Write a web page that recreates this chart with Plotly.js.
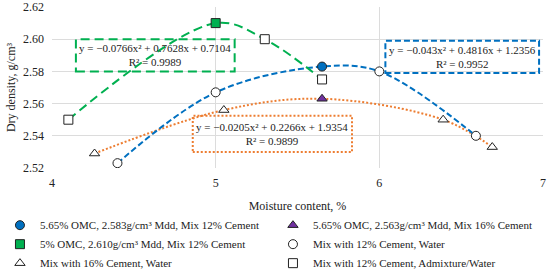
<!DOCTYPE html>
<html>
<head>
<meta charset="utf-8">
<script src="https://cdn.plot.ly/plotly-3.0.1.min.js"></script>
<style>body{margin:0;background:#fff}#plot{width:550px;height:272px}</style>
</head>
<body>
<div id="plot"></div>
<script>
// points
const omc12X = [5.65], omc12Y = [2.583];
const omc16X = [5.65], omc16Y = [2.563];
const omc5X = [5.0], omc5Y = [2.610];
const water12X = [4.4, 5.0, 6.0, 6.59];
const water12Y = [2.523, 2.567, 2.580, 2.540];
const water16X = [4.26, 5.05, 6.39, 6.69];
const water16Y = [2.529, 2.556, 2.550, 2.533];
const admixX = [4.1, 5.3, 5.65];
const admixY = [2.550, 2.600, 2.575];

const eqGreen = 'y = −0.0766x² + 0.7628x + 0.7104<br>R² = 0.9989';
const eqBlue = 'y = −0.043x² + 0.4816x + 1.2356<br>R² = 0.9952';
const eqOrange = 'y = −0.0205x² + 0.2266x + 1.9354<br>R² = 0.9899';

const serif = 'Liberation Serif';

function merge(xa, ya, xb, yb) {
    let pts = [];
    xa.forEach((x, i) => pts.push([x, ya[i]]));
    xb.forEach((x, i) => pts.push([x, yb[i]]));
    pts.sort((a, b) => a[0] - b[0]);
    return { x: pts.map(p => p[0]), y: pts.map(p => p[1]) };
}

const blueT = merge(water12X, water12Y, omc12X, omc12Y);
const orangeT = merge(water16X, water16Y, omc16X, omc16Y);
const greenT = merge(admixX, admixY, omc5X, omc5Y);

function trend(t, color, dash) {
    return {
        x: t.x, y: t.y, type: 'scatter', mode: 'lines', showlegend: false,
        line: { color: color, width: 2, dash: dash, shape: 'spline', smoothing: 1 },
        hoverinfo: 'skip'
    };
}

function pts(x, y, name, symbol, fill, size) {
    return {
        x: x, y: y, type: 'scatter', mode: 'markers', name: name,
        marker: { symbol: symbol, size: size || 9, color: fill, line: { color: '#222', width: 1 } }
    };
}

let traces = [
    trend(orangeT, '#ED7D31', '2px,2px'),
    trend(blueT, '#0070C0', '6px,3px'),
    trend(greenT, '#00B050', '9px,5px'),
    pts(omc12X, omc12Y, '5.65% OMC, 2.583g/cm³ Mdd, Mix 12% Cement', 'circle', '#0070C0'),
    pts(omc16X, omc16Y, '5.65% OMC, 2.563g/cm³ Mdd, Mix 16% Cement', 'triangle-up', '#7030A0'),
    pts(omc5X, omc5Y, '5% OMC, 2.610g/cm³ Mdd, Mix 12% Cement', 'square', '#00B050'),
    pts(water12X, water12Y, 'Mix with 12% Cement, Water', 'circle', '#ffffff'),
    pts(water16X, water16Y, 'Mix with 16% Cement, Water', 'triangle-up', '#ffffff'),
    pts(admixX, admixY, 'Mix with 12% Cement, Admixture/Water', 'square', '#ffffff')
];

function box(x0, x1, y0, y1, color, dash) {
    return { type: 'rect', xref: 'x', yref: 'y', x0: x0, x1: x1, y0: y0, y1: y1,
        line: { color: color, width: 2, dash: dash }, fillcolor: 'rgba(255,255,255,0)' };
}

function eq(x, y, text) {
    return { x: x, y: y, xref: 'x', yref: 'y', text: text, showarrow: false,
        font: { family: serif, size: 11, color: '#222' }, align: 'center' };
}

let layout = {
    width: 550, height: 272,
    margin: { l: 52, r: 7, t: 7, b: 104, autoexpand: false },
    paper_bgcolor: '#fff', plot_bgcolor: '#fff',
    font: { family: serif, size: 12, color: '#222' },
    xaxis: {
        range: [4, 7], dtick: 1, showgrid: true, gridcolor: '#dcdcdc', zeroline: false,
        showline: false, ticks: '', tickfont: { family: serif, size: 12 }, automargin: false,
        ticklabelstandoff: 6,
        title: { text: 'Moisture content, %', font: { family: serif, size: 12 }, standoff: 12 }
    },
    yaxis: {
        range: [2.52, 2.62], dtick: 0.02, tickformat: '.2f', showgrid: true, gridcolor: '#dcdcdc',
        zeroline: false, showline: false, ticks: '', tickfont: { family: serif, size: 12 }, automargin: false,
        ticklabelstandoff: 7,
        title: { text: 'Dry density, g/cm³', font: { family: serif, size: 12 }, standoff: 4 }
    },
    shapes: [
        box(4.146, 5.116, 2.580, 2.600, '#00B050', '9px,5px'),
        box(6.037, 6.976, 2.579, 2.599, '#0070C0', '6px,3px'),
        box(4.86, 5.833, 2.530, 2.5525, '#ED7D31', '2px,2px')
    ],
    annotations: [
        eq(4.631, 2.590, eqGreen),
        eq(6.506, 2.589, eqBlue),
        eq(5.346, 2.541, eqOrange)
    ],
    showlegend: true,
    legend: {
        orientation: 'h', x: -0.106, xanchor: 'left', y: -0.265, yanchor: 'top',
        entrywidth: 228, entrywidthmode: 'pixels', tracegroupgap: 0, itemwidth: 30,
        font: { family: serif, size: 11, color: '#222' }
    }
};

Plotly.newPlot('plot', traces, layout, { displayModeBar: false, staticPlot: true });
</script>
</body>
</html>
